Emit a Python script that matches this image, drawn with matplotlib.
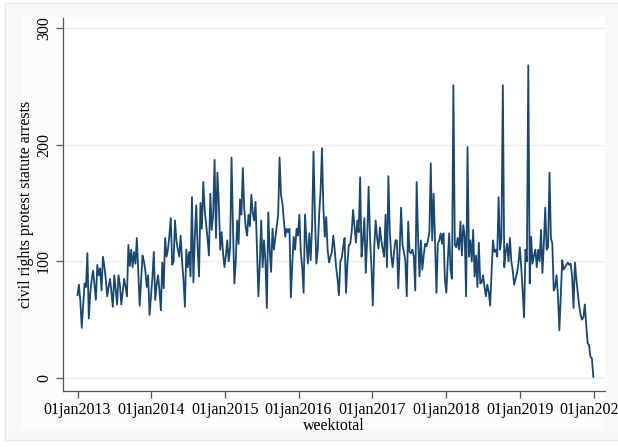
import numpy as np
import pandas as pd
import matplotlib
matplotlib.use("Agg")
import matplotlib.pyplot as plt
from matplotlib.patches import Rectangle

# weekly totals, civil rights protest statute arrests, jan 2013 - jan 2020
start = "2013-01-01"
arrests_2013 = [71, 80, 66, 43, 62, 81, 78, 107, 51, 72, 84, 92, 80, 67, 97, 88, 94, 75,
                104, 96, 85, 70, 78, 85, 74, 61, 88, 76, 63, 88, 80, 63, 74, 85, 78, 70,
                114, 96, 110, 95, 108, 98, 120, 90, 62, 84, 105, 100, 92, 78, 88, 54]
arrests_2014 = [70, 86, 108, 67, 80, 88, 75, 58, 99, 77, 120, 104, 110, 122, 137, 97, 100,
                135, 118, 110, 104, 122, 100, 84, 61, 110, 95, 108, 87, 155, 82, 120, 148,
                112, 87, 150, 128, 168, 144, 132, 120, 105, 158, 127, 140, 187, 120, 176,
                150, 110, 125, 107]
arrests_2015 = [95, 105, 118, 100, 112, 189, 130, 81, 100, 135, 115, 153, 140, 180, 145,
                130, 122, 140, 130, 157, 142, 135, 151, 112, 70, 98, 135, 95, 118, 100, 60,
                142, 110, 91, 128, 110, 120, 130, 140, 189, 157, 150, 135, 121, 128, 125,
                128, 69, 98, 121, 110, 128]
arrests_2016 = [122, 140, 108, 95, 73, 140, 118, 98, 124, 101, 130, 194, 140, 98, 110, 140,
                160, 197, 145, 121, 138, 110, 99, 104, 108, 122, 110, 95, 85, 71, 100, 103,
                112, 120, 73, 98, 114, 115, 125, 144, 130, 116, 135, 125, 172, 104, 118, 137,
                90, 120, 164, 120]
arrests_2017 = [95, 62, 112, 135, 120, 111, 129, 118, 110, 104, 140, 95, 173, 125, 105, 95,
                108, 118, 118, 77, 110, 146, 114, 108, 100, 70, 134, 108, 107, 110, 104, 75,
                168, 120, 87, 118, 93, 105, 115, 113, 118, 125, 184, 118, 158, 118, 73, 115,
                118, 124, 115, 124]
arrests_2018 = [84, 73, 100, 124, 93, 85, 251, 114, 112, 120, 110, 134, 105, 131, 122, 70,
                198, 104, 118, 100, 127, 87, 105, 78, 116, 81, 82, 88, 78, 70, 80, 74, 62,
                90, 118, 108, 110, 104, 155, 110, 120, 251, 95, 108, 115, 100, 120, 100, 92,
                80, 85, 90]
arrests_2019 = [98, 112, 95, 75, 52, 110, 100, 268, 81, 121, 98, 105, 110, 95, 110, 100, 127,
                90, 115, 146, 110, 112, 176, 120, 115, 75, 78, 88, 70, 41, 70, 101, 93, 95,
                97, 99, 97, 98, 87, 60, 99, 85, 73, 62, 54, 50, 52, 63, 45, 30, 28, 18]
arrests_2020 = [17, 1]

arrests = (arrests_2013 + arrests_2014 + arrests_2015 + arrests_2016 + arrests_2017
           + arrests_2018 + arrests_2019 + arrests_2020)
weeks = pd.date_range(start, periods=len(arrests), freq="7D")

tick_dates = pd.to_datetime(["2013-01-01", "2014-01-01", "2015-01-01", "2016-01-01",
                             "2017-01-01", "2018-01-01", "2019-01-01", "2020-01-01"])
tick_labels = ["01jan2013", "01jan2014", "01jan2015", "01jan2016",
               "01jan2017", "01jan2018", "01jan2019", "01jan2020"]
y_ticks = [0, 100, 200, 300]

plt.rcParams["font.family"] = ["Liberation Serif", "DejaVu Serif"]

W, H = 618, 447
fig = plt.figure(figsize=(W / 100, H / 100), dpi=100, facecolor="white")

# stata style graph region, kept behind the axes
fig.patches.append(Rectangle((5 / W, 1 - 440 / H), 1, 437 / H, transform=fig.transFigure,
                             facecolor="#f7f9f9", edgecolor="#e3e9e9", lw=1, zorder=-10))
fig.patches.append(Rectangle((22 / W, 1 - 430 / H), 582 / W, 415 / H, transform=fig.transFigure,
                             facecolor="#fbfcfc", edgecolor="none", zorder=-9))

ax = fig.add_axes([63 / W, 1 - 391 / H, (605 - 63) / W, (391 - 18) / H], zorder=1)
ax.set_facecolor("white")

ax.plot(weeks, arrests, color="#1a476f", lw=1.3, zorder=3)

px_per_day = (593.5 - 77.5) / (tick_dates[-1] - tick_dates[0]).days
ax.set_xlim(tick_dates[0] - pd.Timedelta(days=(77.5 - 63) / px_per_day),
            tick_dates[-1] + pd.Timedelta(days=(605 - 593.5) / px_per_day))
px_per_unit = (378 - 28) / 300
ax.set_ylim(-(391 - 378) / px_per_unit, 300 + (28 - 18) / px_per_unit)

ax.set_xticks(tick_dates)
ax.set_xticklabels(tick_labels, fontsize=11.5)
ax.set_yticks(y_ticks)
ax.set_yticklabels([str(v) for v in y_ticks], fontsize=11.5, rotation=90, va="center")
ax.tick_params(axis="both", direction="out", length=5, width=0.9, color="#555555", pad=3)

ax.yaxis.grid(True, color="#ebeeee", lw=1, zorder=0)
ax.xaxis.grid(False)
for s in ["top", "right"]:
    ax.spines[s].set_visible(False)
for s in ["left", "bottom"]:
    ax.spines[s].set_color("#555555")
    ax.spines[s].set_linewidth(0.9)

ax.set_xlabel("weektotal", fontsize=11.5, labelpad=0)
ax.set_ylabel("civil rights protest statute arrests", fontsize=11.5, labelpad=1)

fig.savefig("out.png", dpi=100, facecolor="white")
